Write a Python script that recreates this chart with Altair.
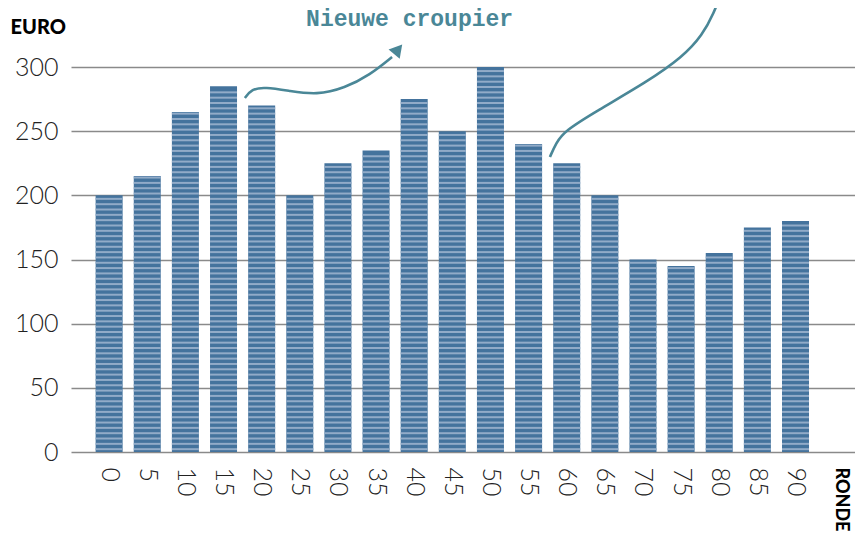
import altair as alt
import pandas as pd

rounds = [0, 5, 10, 15, 20, 25, 30, 35, 40, 45, 50, 55, 60, 65, 70, 75, 80, 85, 90]
euros = [200, 215, 265, 285, 270, 200, 225, 235, 275, 250, 300, 240, 225, 200, 150, 145, 155, 175, 180]
x_ticks = list(range(0, 91, 5))
y_ticks = [0, 50, 100, 150, 200, 250, 300]

# annotation curves (data units: round, euro)
curve1_x = [17.8, 18.7, 20.4, 23.7, 27.2, 30.9, 34.2, 37.1]
curve1_y = [275.8, 282.9, 284.4, 281.3, 278.2, 283.6, 293.8, 307.8]
curve2_x = [57.8, 58.6, 59.7, 63.9, 70.5, 75.2, 77.8, 79.3, 80.3]
curve2_y = [229.9, 240.8, 250.1, 265.7, 288.3, 307.8, 324.9, 342.1, 358.0]
label_text = "Nieuwe croupier"

DARK = "#44739d"
LIGHT = "#91abc8"
TEAL = "#4a8797"

bars_df = pd.DataFrame({"ronde": rounds, "euro": euros})
c1 = pd.DataFrame({"x": curve1_x, "y": curve1_y, "i": range(len(curve1_x))})
c2 = pd.DataFrame({"x": curve2_x, "y": curve2_y, "i": range(len(curve2_x))})
head = pd.DataFrame({"x": [curve1_x[-1] + 0.8], "y": [curve1_y[-1] + 6.0]})
lab = pd.DataFrame({"x": [39.4], "y": [337.5], "t": [label_text]})
ronde = pd.DataFrame({"x": [95.9], "y": [-12.0], "t": ["RONDE"]})

xs = alt.Scale(domain=[-5, 97.8], nice=False, zero=False, padding=0)
ys = alt.Scale(domain=[0, 300], nice=False)

base = alt.Chart(bars_df)

bars = base.mark_bar(color=DARK, size=27).encode(
    x=alt.X("ronde:Q", scale=xs,
            axis=alt.Axis(values=x_ticks, grid=False, domain=False, ticks=False,
                          labelAngle=90, labelAlign="left", labelBaseline="middle",
                          labelPadding=15, labelFontSize=25, labelColor="#222",
                          labelFont="Lato", labelFontWeight=300, title=None,
                          labelFlush=False, labelOverlap=False)),
    y=alt.Y("euro:Q", scale=ys,
            axis=alt.Axis(values=y_ticks, grid=True, gridColor="#8a8a8a", gridWidth=1.3,
                          domain=False, ticks=False, labelPadding=13, labelFontSize=25,
                          labelColor="#222", labelFont="Lato", labelFontWeight=300,
                          title="EURO", titleAngle=0, titleX=-61, titleY=-34,
                          titleAlign="left", titleBaseline="alphabetic",
                          titleFontSize=20, titleFontWeight=900, titleFont="Lato",
                          titleColor="#000")),
)

stripes = base.transform_calculate(
    s="sequence(2.2, datum.euro - 1, 4.15)"
).transform_flatten(["s"]).transform_calculate(
    xa="datum.ronde - 1.77", xb="datum.ronde + 1.77"
).mark_rule(color=LIGHT, strokeWidth=2).encode(
    x=alt.X("xa:Q", scale=xs), x2="xb:Q", y=alt.Y("s:Q", scale=ys)
)

line1 = alt.Chart(c1).mark_line(color=TEAL, strokeWidth=2.6, interpolate="basis", clip=False).encode(
    x=alt.X("x:Q", scale=xs), y=alt.Y("y:Q", scale=ys), order="i:Q")
line2 = alt.Chart(c2).mark_line(color=TEAL, strokeWidth=2.6, interpolate="basis", clip=False).encode(
    x=alt.X("x:Q", scale=xs), y=alt.Y("y:Q", scale=ys), order="i:Q")
arrow = alt.Chart(head).mark_point(shape="triangle-up", filled=True, color=TEAL, size=210,
                                   angle=40, opacity=1, clip=False).encode(
    x=alt.X("x:Q", scale=xs), y=alt.Y("y:Q", scale=ys))
label = alt.Chart(lab).mark_text(font="Liberation Mono", fontWeight="bold", fontSize=23,
                                 color=TEAL, align="center", baseline="middle").encode(
    x=alt.X("x:Q", scale=xs), y=alt.Y("y:Q", scale=ys), text="t:N")
ronde_t = alt.Chart(ronde).mark_text(font="Lato", fontWeight=900, fontSize=18, color="#000",
                                     angle=90, align="left", baseline="middle").encode(
    x=alt.X("x:Q", scale=xs), y=alt.Y("y:Q", scale=ys), text="t:N")

chart = alt.layer(bars, stripes, line1, line2, arrow, label, ronde_t).properties(
    width=784, height=385,
    autosize=alt.AutoSizeParams(type="none"),
    padding={"left": 63, "top": 59, "right": 0, "bottom": 80},
).configure_view(stroke=None)

chart.save("out.html", embed_options={"renderer": "svg", "actions": False})
